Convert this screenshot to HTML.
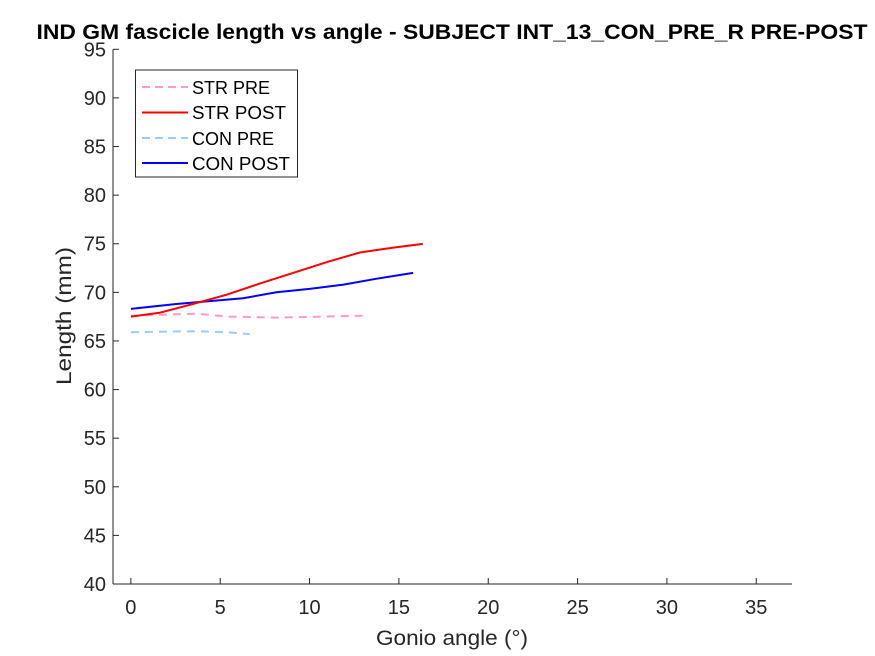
<!DOCTYPE html>
<html><head><meta charset="utf-8"><style>
body{margin:0;background:#fff;}
svg{display:block;font-family:"Liberation Sans",Arial,sans-serif;}
</style></head><body>
<svg id="chart" width="875" height="656">
<rect width="875" height="656" fill="#fff"/>
<text x="452" y="39" text-anchor="middle" font-size="21" font-weight="bold" fill="#000" textLength="831" lengthAdjust="spacingAndGlyphs">IND GM fascicle length vs angle - SUBJECT INT_13_CON_PRE_R PRE-POST</text>
<g id="axes"></g>
<g id="series"></g>
<text x="452" y="645" text-anchor="middle" font-size="21" fill="#262626" textLength="152" lengthAdjust="spacingAndGlyphs">Gonio angle (°)</text>
<text transform="translate(71,316) rotate(-90)" text-anchor="middle" font-size="21" fill="#262626" textLength="138" lengthAdjust="spacingAndGlyphs">Length (mm)</text>
<g>
<rect x="135.5" y="70" width="162" height="107" fill="#fff" stroke="#262626" stroke-width="1"/>
<line x1="142" y1="87" x2="188" y2="87" stroke="#ff99cc" stroke-width="2" stroke-dasharray="8,5"/>
<text x="192" y="94" font-size="18" fill="#000">STR PRE</text>
<line x1="142" y1="112.5" x2="188" y2="112.5" stroke="#ff0000" stroke-width="2"/>
<text x="192" y="119" font-size="18" fill="#000" textLength="94" lengthAdjust="spacingAndGlyphs">STR POST</text>
<line x1="142" y1="138" x2="188" y2="138" stroke="#99ccff" stroke-width="2" stroke-dasharray="8,5"/>
<text x="192" y="145" font-size="18" fill="#000">CON PRE</text>
<line x1="142" y1="163" x2="188" y2="163" stroke="#0000ff" stroke-width="2"/>
<text x="192" y="170" font-size="18" fill="#000" textLength="98" lengthAdjust="spacingAndGlyphs">CON POST</text>
</g>
</svg>
<script>
const xTicks = [0,5,10,15,20,25,30,35];
const yTicks = [40,45,50,55,60,65,70,75,80,85,90,95];
const strPostX = [0,1.6,3.47,5.34,7.21,9.08,10.95,12.82,14.69,16.34];
const strPostY = [67.5,67.9,68.8,69.75,70.9,72.0,73.1,74.1,74.6,74.98];
const conPostX = [0,2.54,4.4,6.28,8.15,10.0,11.9,13.76,15.8];
const conPostY = [68.3,68.8,69.1,69.4,70.0,70.35,70.8,71.4,72.0];
const strPreX = [0,3.66,5.5,8.15,10.76,13.0];
const strPreY = [67.6,67.8,67.5,67.4,67.5,67.6];
const conPreX = [0,3.66,5.34,6.65];
const conPreY = [65.9,66.0,65.9,65.7];

const L=113,R=792,T=49.3,B=584,XMIN=-1,XMAX=37,YMIN=40,YMAX=95;
const sx=v=>L+(v-XMIN)/(XMAX-XMIN)*(R-L);
const sy=v=>B-(v-YMIN)/(YMAX-YMIN)*(B-T);
const NS='http://www.w3.org/2000/svg';
const ax=document.getElementById('axes');
function mk(tag,attrs,parent){const e=document.createElementNS(NS,tag);for(const k in attrs)e.setAttribute(k,attrs[k]);parent.appendChild(e);return e;}
const xl=mk('line',{x1:L,y1:B,x2:R,y2:B,stroke:'#262626','stroke-width':1},ax);


const yl=mk('line',{x1:L,y1:T,x2:L,y2:B,stroke:'#262626','stroke-width':1},ax);


xTicks.forEach(t=>{
  mk('line',{x1:sx(t),y1:B,x2:sx(t),y2:B-6,stroke:'#262626'},ax);
  const tx=mk('text',{x:sx(t),y:B+30,'text-anchor':'middle','font-size':20,fill:'#262626'},ax);
  tx.textContent=t;
  
  
});
yTicks.forEach(t=>{
  mk('line',{x1:L,y1:sy(t),x2:L+6,y2:sy(t),stroke:'#262626'},ax);
  const tx=mk('text',{x:L-7,y:sy(t)+7,'text-anchor':'end','font-size':20,fill:'#262626'},ax);
  tx.textContent=t;
  
  
});
const sg=document.getElementById('series');
function line(xs,ys,color,dash,name){
  const d=xs.map((x,i)=>(i?'L':'M')+sx(x).toFixed(1)+','+sy(ys[i]).toFixed(1)).join(' ');
  const p=mk('path',{d:d,fill:'none',stroke:color,'stroke-width':2},sg);
  if(dash)p.setAttribute('stroke-dasharray',dash);
  
  
}
line(strPreX,strPreY,'#ff99cc','8,6','str-pre-line');
line(conPreX,conPreY,'#99ccff','8,6','con-pre-line');
line(conPostX,conPostY,'#0000ff',null,'con-post-line');
line(strPostX,strPostY,'#ff0000',null,'str-post-line');
</script>
</body></html>
